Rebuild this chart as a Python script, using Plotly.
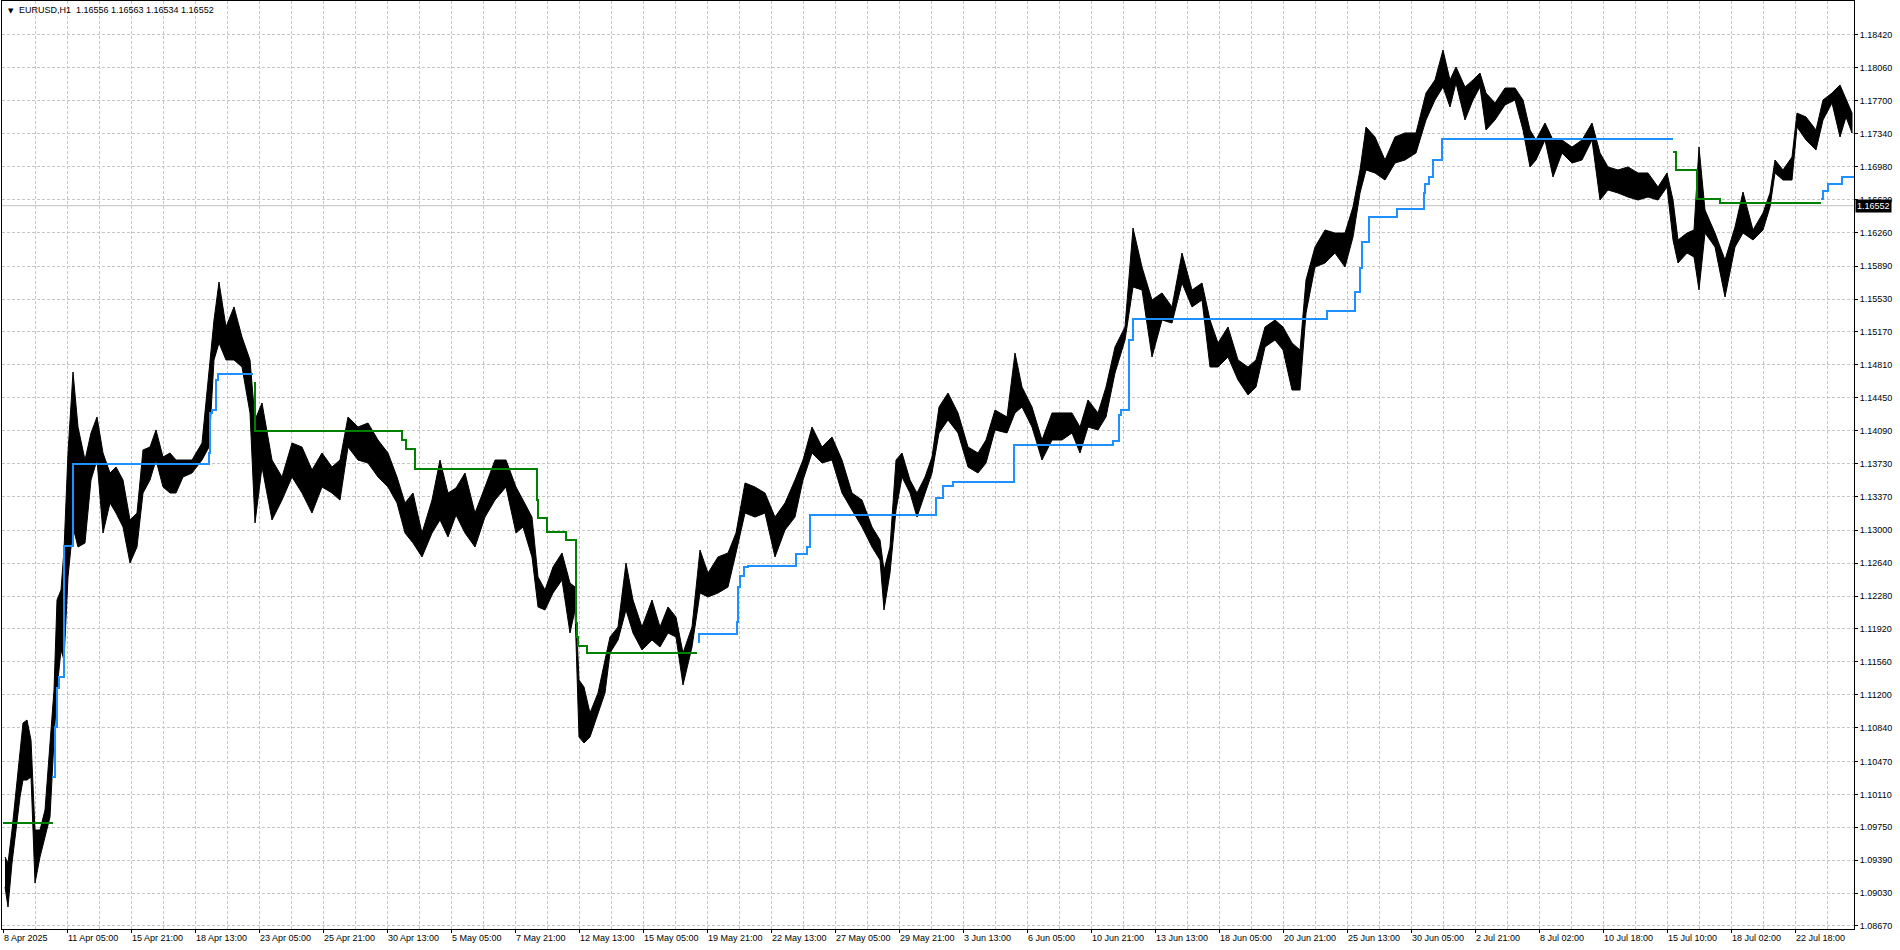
import plotly.graph_objects as go

# ---------------- data ----------------
x_labels = ["8 Apr 2025", "11 Apr 05:00", "15 Apr 21:00", "18 Apr 13:00", "23 Apr 05:00",
            "25 Apr 21:00", "30 Apr 13:00", "5 May 05:00", "7 May 21:00", "12 May 13:00",
            "15 May 05:00", "19 May 21:00", "22 May 13:00", "27 May 05:00", "29 May 21:00",
            "3 Jun 13:00", "6 Jun 05:00", "10 Jun 21:00", "13 Jun 13:00", "18 Jun 05:00",
            "20 Jun 21:00", "25 Jun 13:00", "30 Jun 05:00", "2 Jul 21:00", "8 Jul 02:00",
            "10 Jul 18:00", "15 Jul 10:00", "18 Jul 02:00", "22 Jul 18:00"]
bars_per_label = 64

y_labels = ["1.18420", "1.18060", "1.17700", "1.17340", "1.16980", "1.16620", "1.16260",
            "1.15890", "1.15530", "1.15170", "1.14810", "1.14450", "1.14090", "1.13730",
            "1.13370", "1.13000", "1.12640", "1.12280", "1.11920", "1.11560", "1.11200",
            "1.10840", "1.10470", "1.10110", "1.09750", "1.09390", "1.09030", "1.08670"]

title_text = "EURUSD,H1\u00a0\u00a01.16556 1.16563 1.16534 1.16552"
bid_price = 1.16552

# price envelope (bar index, high, low) sampled along the series
bar_idx = [2, 5, 9, 13, 17, 20, 24, 28, 32, 37,
           42, 47, 51, 54, 58, 61, 65, 70, 75, 82,
           88, 94, 100, 107, 113, 120, 127, 134, 140, 147,
           153, 160, 167, 173, 180, 189, 199, 206, 211, 216,
           223, 231, 239, 247, 252, 259, 269, 279, 289, 299,
           309, 319, 329, 337, 345, 355, 365, 375, 385, 394,
           402, 410, 419, 429, 437, 445, 453, 462, 472, 482,
           492, 503, 513, 520, 529, 535, 542, 550, 559, 567,
           572, 576, 581, 587, 595, 602, 607, 615, 623, 630,
           639, 649, 657, 665, 673, 680, 689, 697, 705, 715,
           725, 733, 742, 752, 762, 772, 782, 792, 800, 809,
           819, 829, 839, 849, 859, 869, 877, 881, 887, 893,
           899, 907, 914, 922, 929, 936, 945, 955, 965, 975,
           983, 992, 1004, 1012, 1019, 1029, 1039, 1049, 1059, 1069,
           1077, 1085, 1095, 1103, 1112, 1122, 1130, 1139, 1149, 1159,
           1169, 1179, 1189, 1199, 1207, 1215, 1225, 1235, 1245, 1253,
           1262, 1272, 1280, 1289, 1297, 1303, 1312, 1322, 1332, 1342,
           1350, 1357, 1363, 1372, 1382, 1392, 1402, 1413, 1423, 1432,
           1440, 1447, 1453, 1462, 1470, 1477, 1483, 1492, 1502, 1512,
           1520, 1527, 1533, 1542, 1550, 1559, 1569, 1579, 1589, 1597,
           1605, 1615, 1625, 1635, 1645, 1655, 1664, 1670, 1675, 1684,
           1691, 1696, 1702, 1712, 1722, 1732, 1740, 1750, 1760, 1767,
           1772, 1780, 1789, 1794, 1803, 1813, 1820, 1829, 1837, 1843,
           1849]

bar_high = [1.09425, 1.09359, 1.09720, 1.10158, 1.10519, 1.10891, 1.10924, 1.10705, 1.09720, 1.09720,
            1.09939, 1.10629, 1.11252, 1.12237, 1.12347, 1.12784, 1.13846, 1.14732, 1.14130, 1.13769,
            1.14065, 1.14240, 1.13846, 1.13627, 1.13693, 1.13550, 1.13113, 1.13189, 1.13879, 1.13911,
            1.14098, 1.13802, 1.13846, 1.13769, 1.13769, 1.13769, 1.13955, 1.14787, 1.15301, 1.15717,
            1.15225, 1.15444, 1.15115, 1.14864, 1.14207, 1.14393, 1.13769, 1.13583, 1.13955, 1.13911,
            1.13660, 1.13846, 1.13693, 1.13769, 1.14240, 1.14130, 1.14174, 1.13988, 1.13846, 1.13583,
            1.13299, 1.13408, 1.12970, 1.13331, 1.13769, 1.13408, 1.13463, 1.13627, 1.13189, 1.13474,
            1.13769, 1.13769, 1.13474, 1.13331, 1.13145, 1.12489, 1.12347, 1.12598, 1.12752, 1.12423,
            1.12379, 1.11362, 1.11285, 1.11001, 1.11220, 1.11581, 1.11832, 1.11942, 1.12642, 1.12237,
            1.11942, 1.12237, 1.11942, 1.12161, 1.12051, 1.11657, 1.11942, 1.12784, 1.12533, 1.12708,
            1.12752, 1.12970, 1.13518, 1.13474, 1.13408, 1.13145, 1.13299, 1.13550, 1.13769, 1.14130,
            1.13911, 1.14021, 1.13769, 1.13408, 1.13331, 1.13036, 1.12894, 1.12565, 1.12817, 1.13769,
            1.13846, 1.13550, 1.13408, 1.13583, 1.13802, 1.14349, 1.14502, 1.14284, 1.13911, 1.13846,
            1.13988, 1.14316, 1.14240, 1.14940, 1.14568, 1.14349, 1.13988, 1.14284, 1.14284, 1.14284,
            1.14130, 1.14426, 1.14284, 1.14568, 1.15006, 1.15225, 1.16308, 1.15881, 1.15520, 1.15597,
            1.15444, 1.16034, 1.15630, 1.15706, 1.15301, 1.15050, 1.15225, 1.14864, 1.14787, 1.14864,
            1.15225, 1.15301, 1.15225, 1.15050, 1.14973, 1.15739, 1.16100, 1.16286, 1.16253, 1.16253,
            1.16538, 1.16943, 1.17413, 1.17304, 1.17052, 1.17304, 1.17348, 1.17348, 1.17785, 1.17928,
            1.18256, 1.17928, 1.18070, 1.17851, 1.17928, 1.18004, 1.17785, 1.17676, 1.17840, 1.17840,
            1.17709, 1.17380, 1.17271, 1.17457, 1.17271, 1.17271, 1.17194, 1.17271, 1.17457, 1.17129,
            1.16976, 1.16943, 1.16976, 1.16910, 1.16910, 1.16757, 1.16910, 1.16614, 1.16177, 1.16253,
            1.16286, 1.17194, 1.16505, 1.16253, 1.15958, 1.16319, 1.16702, 1.16286, 1.16472, 1.16691,
            1.17052, 1.16943, 1.17085, 1.17566, 1.17523, 1.17380, 1.17709, 1.17785, 1.17873, 1.17709,
            1.17566]

bar_low = [1.09097, 1.08878, 1.09359, 1.09720, 1.10081, 1.10267, 1.10267, 1.10300, 1.09140, 1.09425,
           1.09644, 1.09863, 1.10705, 1.11252, 1.11690, 1.11581, 1.12489, 1.13036, 1.12817, 1.12861,
           1.13550, 1.13769, 1.12970, 1.13299, 1.13189, 1.13036, 1.12642, 1.12817, 1.13408, 1.13550,
           1.13769, 1.13474, 1.13408, 1.13408, 1.13583, 1.13627, 1.13769, 1.13911, 1.14864, 1.15050,
           1.14864, 1.14864, 1.14787, 1.14284, 1.13080, 1.13693, 1.13113, 1.13331, 1.13583, 1.13408,
           1.13189, 1.13474, 1.13408, 1.13331, 1.13911, 1.13769, 1.13736, 1.13583, 1.13474, 1.13299,
           1.12970, 1.12861, 1.12708, 1.12970, 1.13113, 1.12927, 1.13167, 1.12970, 1.12817, 1.13145,
           1.13331, 1.13474, 1.12970, 1.13036, 1.12708, 1.12161, 1.12128, 1.12314, 1.12456, 1.11876,
           1.12128, 1.10738, 1.10672, 1.10738, 1.11001, 1.11220, 1.11657, 1.11799, 1.12128, 1.11876,
           1.11690, 1.11799, 1.11723, 1.11876, 1.11832, 1.11307, 1.11723, 1.12314, 1.12270, 1.12314,
           1.12379, 1.12752, 1.13189, 1.13145, 1.13189, 1.12708, 1.13003, 1.13145, 1.13550, 1.13846,
           1.13736, 1.13769, 1.13408, 1.13222, 1.13036, 1.12817, 1.12675, 1.12128, 1.12533, 1.13222,
           1.13583, 1.13408, 1.13145, 1.13408, 1.13627, 1.14065, 1.14207, 1.14065, 1.13693, 1.13627,
           1.13736, 1.14098, 1.14065, 1.14284, 1.14349, 1.14130, 1.13769, 1.13988, 1.13988, 1.14065,
           1.13846, 1.14130, 1.14098, 1.14240, 1.14721, 1.15082, 1.15662, 1.15630, 1.14896, 1.15301,
           1.15268, 1.15706, 1.15444, 1.15520, 1.14787, 1.14787, 1.14896, 1.14645, 1.14481, 1.14568,
           1.15006, 1.15082, 1.14973, 1.14535, 1.14535, 1.15378, 1.15881, 1.15925, 1.16034, 1.15881,
           1.16209, 1.16691, 1.16943, 1.16910, 1.16833, 1.17019, 1.17052, 1.17129, 1.17490, 1.17709,
           1.17851, 1.17632, 1.17895, 1.17490, 1.17709, 1.17851, 1.17380, 1.17490, 1.17654, 1.17709,
           1.17380, 1.16976, 1.17052, 1.17271, 1.16866, 1.17129, 1.17019, 1.17052, 1.17271, 1.16614,
           1.16724, 1.16691, 1.16647, 1.16614, 1.16647, 1.16614, 1.16757, 1.16177, 1.15925, 1.16034,
           1.15991, 1.15630, 1.16253, 1.16100, 1.15553, 1.16100, 1.16253, 1.16177, 1.16286, 1.16538,
           1.16910, 1.16833, 1.16833, 1.17413, 1.17271, 1.17162, 1.17490, 1.17676, 1.17304, 1.17523,
           1.17348]

# indicator step lines (bar index where a level starts, level); None separates segments
green_idx = [0, 50, None,
             251, 252, 399, 403, 412, 534, 535, 544, 563, 573, 574, 575, 584, 694, None,
             1670, 1673, 1694, 1717, 1818]
green_val = [1.09797, 1.09797, None,
             1.14612, 1.14087, 1.13988, 1.13890, 1.13671, 1.13332, 1.13135, 1.12981, 1.12894,
             1.11986, 1.11832, 1.11734, 1.11657, 1.11657, None,
             1.17140, 1.16943, 1.16625, 1.16582, 1.16582]

blue_idx = [49, 52, 54, 56, 61, 70, 206, 207, 209, 213, 215, 250, None,
            695, 696, 734, 735, 737, 741, 745, 793, 804, 807, 933, 940, 950, 1011, 1110,
            1116, 1118, 1126, 1130, 1324, 1352, 1357, 1359, 1366, 1394, 1421, 1422, 1426,
            1430, 1439, 1670, None,
            1818, 1820, 1825, 1839, 1851]
blue_val = [1.10300, 1.10847, 1.11274, 1.11395, 1.12828, 1.13725, 1.13846, 1.14284, 1.14316,
            1.14645, 1.14710, 1.14710, None,
            1.11778, 1.11865, 1.11996, 1.12379, 1.12500, 1.12598, 1.12609, 1.12741, 1.12817,
            1.13167, 1.13353, 1.13485, 1.13528, 1.13933, 1.13977, 1.14262, 1.14316, 1.15082,
            1.15312, 1.15400, 1.15608, 1.15870, 1.16155, 1.16428, 1.16516, 1.16691, 1.16790,
            1.16866, 1.17052, 1.17282, 1.17282, None,
            1.16625, 1.16713, 1.16790, 1.16866, 1.16866]

# ---------------- figure ----------------
FONT = "Liberation Sans"
GRID = "#c6c6c6"
DASH = "3px,2px"

fig = go.Figure()

# price ribbon (high / low envelope)
fig.add_trace(go.Scatter(
    x=bar_idx + bar_idx[::-1],
    y=bar_high + bar_low[::-1],
    mode="lines", fill="toself", fillcolor="black",
    line=dict(color="black", width=1), hoverinfo="skip"))

fig.add_trace(go.Scatter(x=green_idx, y=green_val, mode="lines", line_shape="hv",
                         line=dict(color="#008000", width=2), connectgaps=False,
                         hoverinfo="skip"))
fig.add_trace(go.Scatter(x=blue_idx, y=blue_val, mode="lines", line_shape="hv",
                         line=dict(color="#1E90FF", width=2), connectgaps=False,
                         hoverinfo="skip"))

tick_bars = [i * bars_per_label for i in range(len(x_labels))]
y_ticks = [float(s) for s in y_labels]

fig.add_shape(type="line", xref="paper", x0=0, x1=1, yref="y", y0=bid_price, y1=bid_price,
              line=dict(color="#c0c0c0", width=1), layer="between")

fig.update_layout(
    template="none",
    width=1900, height=950,
    margin=dict(l=2, r=46, t=1, b=21, pad=0, autoexpand=False),
    paper_bgcolor="white", plot_bgcolor="white",
    showlegend=False, hovermode=False,
    font=dict(family=FONT, size=9, color="black"),
)

fig.update_xaxes(
    range=[-1, 1851], tickmode="array", tickvals=tick_bars, ticktext=x_labels,
    ticks="outside", ticklen=3, tickcolor="black", tickwidth=1,
    ticklabelposition="outside right", automargin=False,
    tickfont=dict(family=FONT, size=9, color="black"),
    showgrid=True, gridcolor=GRID, griddash=DASH, gridwidth=1,
    minor=dict(tickmode="linear", tick0=0, dtick=bars_per_label // 2, showgrid=True,
               gridcolor=GRID, griddash=DASH, ticks=""),
    showline=True, mirror=True, linecolor="black", linewidth=1, zeroline=False,
)

fig.update_yaxes(
    side="right", range=[1.08637, 1.18792], tickmode="array",
    tickvals=y_ticks, ticktext=y_labels, automargin=False,
    ticks="outside", ticklen=3, tickcolor="black", tickwidth=1,
    ticklabelstandoff=0,
    tickfont=dict(family=FONT, size=9, color="black"),
    showgrid=True, gridcolor=GRID, griddash=DASH, gridwidth=1,
    showline=True, mirror=True, linecolor="black", linewidth=1, zeroline=False,
)

# chart title (top-left)
fig.add_annotation(xref="x", x=3, yref="paper", y=1, xanchor="left", yanchor="top",
                   yshift=-4, text="\u25bc", showarrow=False,
                   font=dict(family="DejaVu Sans", size=7, color="black"))
fig.add_annotation(xref="x", x=14, yref="paper", y=1, xanchor="left", yanchor="top",
                   yshift=-2, text=title_text, showarrow=False,
                   font=dict(family=FONT, size=9, color="black"))

# current bid label on the price scale
fig.add_annotation(xref="paper", x=1, xanchor="left", xshift=1, yref="y", y=bid_price,
                   yanchor="middle", text=f"{bid_price:.5f}", showarrow=False,
                   bgcolor="black", borderpad=1,
                   font=dict(family=FONT, size=9, color="white"))

fig.write_html(
    "out.html",
    config={"displayModeBar": False, "staticPlot": True},
    post_script="document.body.style.margin='0px';document.body.style.overflow='hidden';",
)
